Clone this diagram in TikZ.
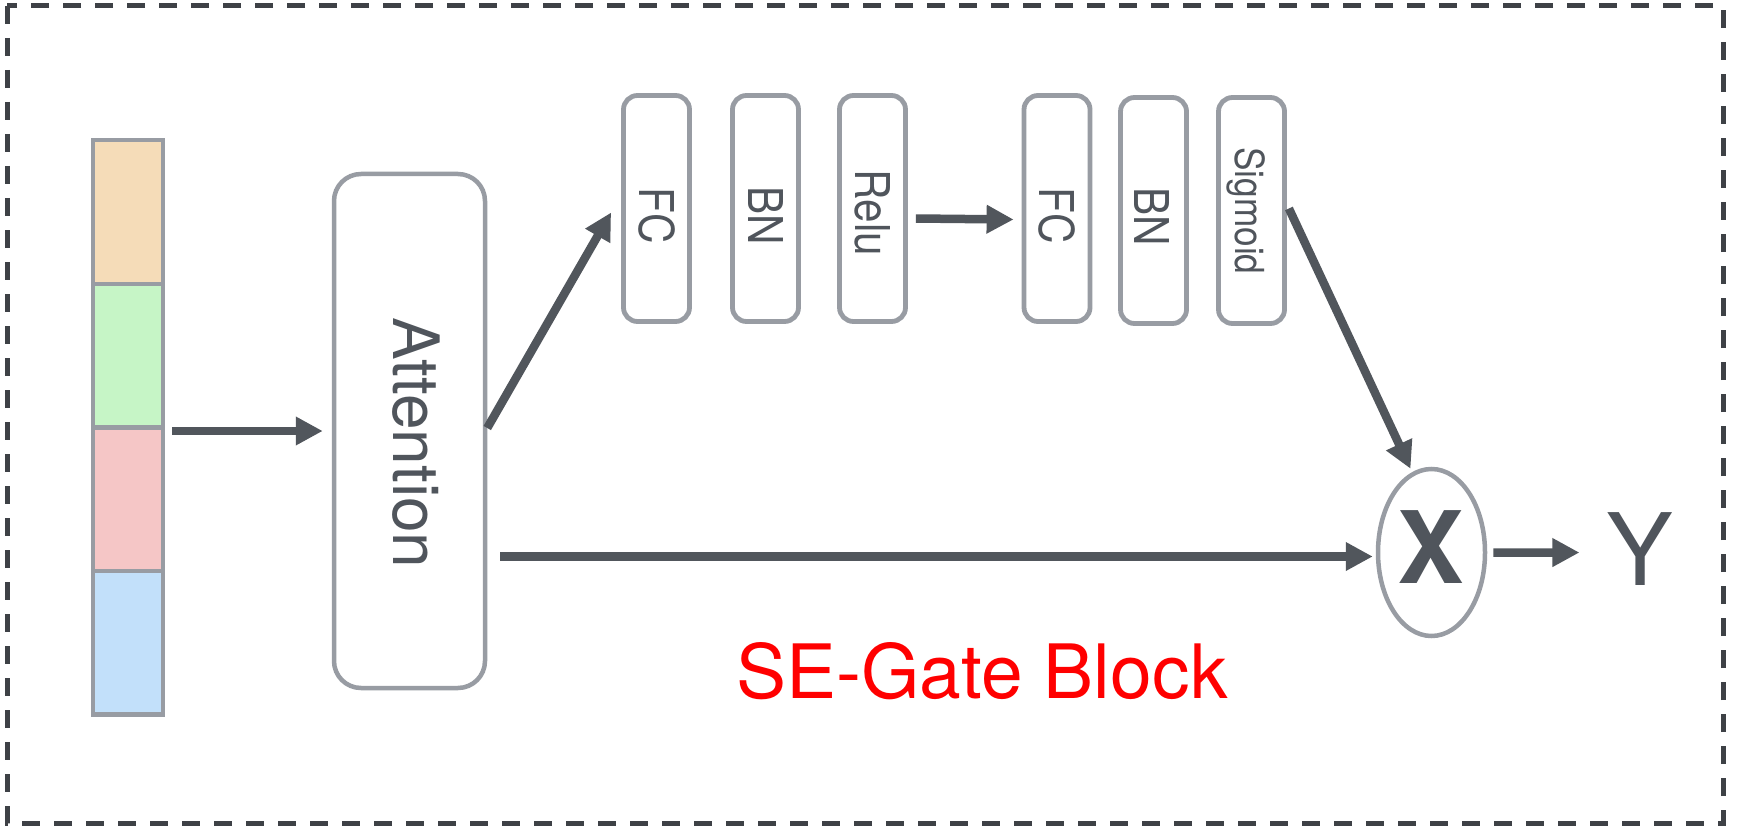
\documentclass[tikz,border=0pt]{standalone}
\usepackage{fontspec}
\setmainfont{TeX Gyre Heros}
\newfontfamily\condfont[FakeStretch=0.88]{TeX Gyre Heros}
\usetikzlibrary{shapes.geometric,arrows.meta}
\definecolor{arrgray}{HTML}{51565C}
\definecolor{boxgray}{HTML}{989CA3}
\definecolor{txtgray}{HTML}{50555C}
\definecolor{dashgray}{HTML}{3E4146}
\definecolor{cellA}{HTML}{F5DCB8}
\definecolor{cellB}{HTML}{C6F5C6}
\definecolor{cellC}{HTML}{F5C6C6}
\definecolor{cellD}{HTML}{C2E0FA}
\begin{document}
\begin{tikzpicture}[x=1pt,y=-1pt,
  cell/.style={draw=boxgray,line width=4.5pt,minimum width=70pt,minimum height=143.5pt,inner sep=0pt},
  bigbox/.style={draw=boxgray,line width=4.5pt,rounded corners=27pt,minimum width=151pt,minimum height=514pt,inner sep=0pt},
  layer/.style={draw=boxgray,line width=4.8pt,rounded corners=14pt,minimum width=66pt,minimum height=226pt,inner sep=0pt},
  lab/.style={text=txtgray,inner sep=0pt,rotate=-90,font=\condfont\fontsize{48}{52}\selectfont},
  arr/.style={draw=arrgray,line width=8.5pt,-{Triangle[length=27pt,width=27pt]}},
  ]
\useasboundingbox (0,0) rectangle (1737,829);
\fill[white] (0,0) rectangle (1737,829);
\draw[dashgray,line width=5pt,dash pattern=on 18pt off 14pt] (7,6) rectangle (1723,823);

% colour bar
\node[cell,fill=cellA] (c1) at (128,212) {};
\node[cell,fill=cellB] (c2) at (128,355.5) {};
\node[cell,fill=cellC] (c3) at (128,499) {};
\node[cell,fill=cellD] (c4) at (128,642.5) {};

% attention
\node[bigbox] (att) at (409.5,431) {};
\node[lab,font=\fontsize{64}{70}\selectfont] (attl) at (416,443) {Attention};

% layers
\node[layer] (fc1) at (656.5,208.5) {};
\node[layer] (bn1) at (765.5,208.5) {};
\node[layer] (relu) at (872.5,208.5) {};
\node[layer] (fc2) at (1057,208.5) {};
\node[layer] (bn2) at (1153.5,210.5) {};
\node[layer] (sig) at (1251.5,210.5) {};
\node[lab] (fc1l) at (656.5,215.5) {FC};
\node[lab] (bn1l) at (766,216) {BN};
\node[lab] (relul) at (873,213) {Relu};
\node[lab] (fc2l) at (1057,215.5) {FC};
\node[lab] (bn2l) at (1152,217) {BN};
\node[lab,font=\condfont\fontsize{40}{44}\selectfont] (sigl) at (1246,211) {Sigmoid};

% multiply and output
\node[ellipse,draw=boxgray,line width=4.5pt,minimum width=107pt,minimum height=167pt,inner sep=0pt] (mul) at (1431.5,552.5) {};
\node[text=txtgray,inner sep=0pt,anchor=base,font=\fontsize{100}{110}\selectfont\bfseries] (xl) at (1431,583) {X};
\node[text=txtgray,inner sep=0pt,anchor=base,font=\fontsize{100}{110}\selectfont] (yl) at (1640,585) {Y};

% caption
\node[text=red,inner sep=0pt,anchor=base,font=\fontsize{75}{80}\selectfont] (cap) at (982,698) {SE-Gate Block};

% connectors
\coordinate (hstart) at (att.east |- mul.west);
\draw[arr] (c1.east |- att.west) ++(7,0) -- ([xshift=-9pt]att.west);
\draw[arr] ([yshift=3pt]att.east) -- ([xshift=-10pt,yshift=-4pt]fc1.west);
\draw[arr] ([xshift=8pt,yshift=-10pt]relu.east) -- ([xshift=-8pt,yshift=-11pt]fc2.west);
\draw[arr] ([xshift=2pt,yshift=2pt]sig.east) -- ([xshift=-21pt,yshift=-2pt]mul.north);
\draw[arr] ([xshift=13pt,yshift=-4pt]hstart) -- ([xshift=-3pt,yshift=-4pt]mul.west);
\draw[arr] ([xshift=6pt]mul.east) -- ([xshift=-27pt,yshift=-4pt]yl.west);
\end{tikzpicture}
\end{document}
